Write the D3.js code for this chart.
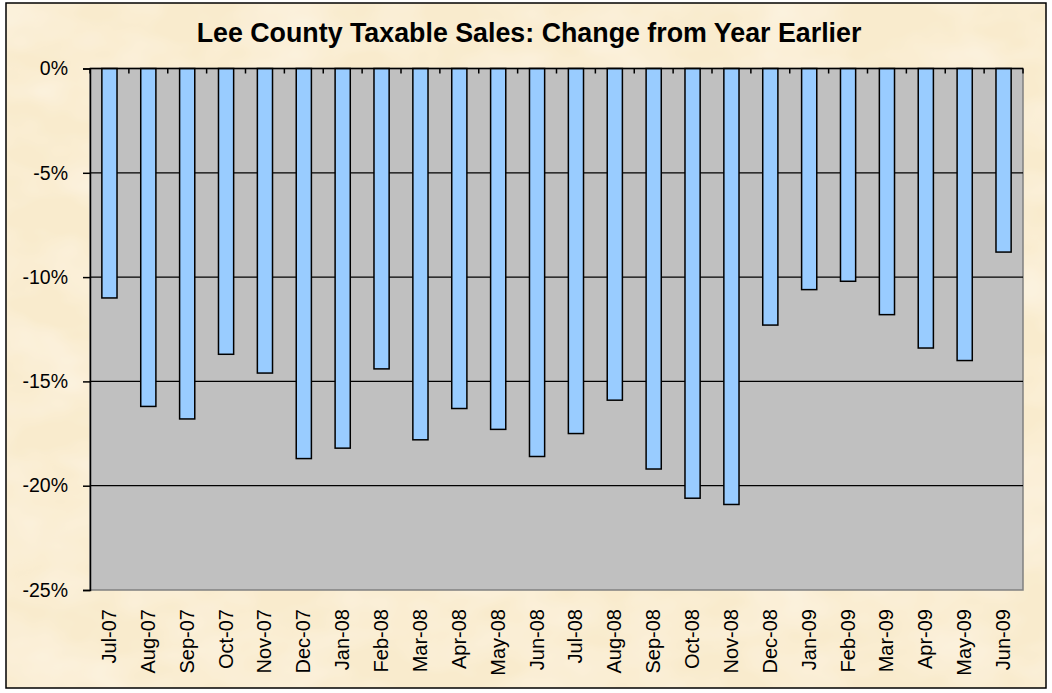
<!DOCTYPE html>
<html><head><meta charset="utf-8">
<script src="https://cdn.jsdelivr.net/npm/d3@7"></script>
<style>html,body{margin:0;padding:0;background:#fff;}svg{display:block;}</style>
</head><body>
<script>
const categories = ["Jul-07","Aug-07","Sep-07","Oct-07","Nov-07","Dec-07","Jan-08","Feb-08","Mar-08","Apr-08","May-08","Jun-08","Jul-08","Aug-08","Sep-08","Oct-08","Nov-08","Dec-08","Jan-09","Feb-09","Mar-09","Apr-09","May-09","Jun-09"];
const values = [-11.0,-16.2,-16.8,-13.7,-14.6,-18.7,-18.2,-14.4,-17.8,-16.3,-17.3,-18.6,-17.5,-15.9,-19.2,-20.6,-20.9,-12.3,-10.6,-10.2,-11.8,-13.4,-14.0,-8.8];
const yTicks = [0,-5,-10,-15,-20,-25];
const title = "Lee County Taxable Sales: Change from Year Earlier";

const W = 1052, H = 693;
const FONT = "Arial, 'Liberation Sans', sans-serif";
const svg = d3.select("body").append("svg").attr("width", W).attr("height", H);
const defs = svg.append("defs");
const f = defs.append("filter").attr("id","parch").attr("x",0).attr("y",0).attr("width","100%").attr("height","100%");
f.append("feTurbulence").attr("type","fractalNoise").attr("baseFrequency","0.012 0.02").attr("numOctaves",3).attr("seed",4).attr("result","n");
f.append("feColorMatrix").attr("in","n").attr("type","matrix")
 .attr("values","0 0 0 0 0.995  0 0 0 0 0.96  0 0 0 0 0.88  0.9 0 0 0 -0.3").attr("result","c");
f.append("feComposite").attr("in","c").attr("in2","SourceGraphic").attr("operator","over");

svg.append("rect").attr("x",0).attr("y",0).attr("width",W).attr("height",H).attr("fill","#ffffff");
svg.append("rect").attr("x",6).attr("y",3).attr("width",1040).attr("height",685).attr("fill","#f9ebcd").attr("filter","url(#parch)");
svg.append("rect").attr("x",6).attr("y",3).attr("width",1040).attr("height",685).attr("fill","none").attr("stroke","#000").attr("stroke-width",1.5);

const m = {left:90, right:1023, top:68.5, bottom:590};
const x = d3.scaleBand().domain(categories).range([m.left, m.right]).paddingInner(0.61).paddingOuter(0.305);
const xb = d3.scaleBand().domain(categories).range([m.left, m.right]);
const y = d3.scaleLinear().domain([-25,0]).range([m.bottom, m.top]);

svg.append("rect").attr("x",m.left).attr("y",m.top).attr("width",m.right-m.left).attr("height",m.bottom-m.top)
  .attr("fill","#c0c0c0").attr("stroke","#808080").attr("stroke-width",1.5);

svg.append("g").selectAll("line").data(yTicks.filter(d=>d<0 && d>-25)).join("line")
  .attr("x1",m.left).attr("x2",m.right).attr("y1",d=>y(d)).attr("y2",d=>y(d))
  .attr("stroke","#000").attr("stroke-width",1.2);

svg.append("g").selectAll("rect").data(values).join("rect")
  .attr("x",(d,i)=>x(categories[i])).attr("width",x.bandwidth())
  .attr("y",y(0)).attr("height",d=>y(d)-y(0))
  .attr("fill","#99ccff").attr("stroke","#000").attr("stroke-width",1.5);

// y axis
const ya = svg.append("g").attr("transform",`translate(${m.left},0)`)
  .call(d3.axisLeft(y).tickValues(yTicks).tickSize(7).tickPadding(15).tickFormat(d=>d+"%"));
ya.select(".domain").attr("stroke","#000").attr("stroke-width",1.5);
ya.selectAll(".tick line").attr("stroke","#000").attr("stroke-width",1.5);
ya.selectAll("text").attr("font-family",FONT).attr("font-size",19.5).attr("fill","#000");

// x axis at y=0 with inward tick marks at band boundaries
const xa = svg.append("g").attr("transform",`translate(0,${y(0)})`);
xa.append("line").attr("x1",m.left).attr("x2",m.right).attr("stroke","#000").attr("stroke-width",1.5);
xa.selectAll("line.t").data(categories.concat(["__end"])).join("line").attr("class","t")
  .attr("x1",(d,i)=> i<categories.length ? xb(d) : m.right).attr("x2",(d,i)=> i<categories.length ? xb(d) : m.right)
  .attr("y1",0).attr("y2",5).attr("stroke","#000").attr("stroke-width",1.5);

// x labels
svg.append("g").selectAll("text").data(categories).join("text")
  .attr("transform",d=>`translate(${xb(d)+xb.bandwidth()/2+6.5},${m.bottom+19}) rotate(-90)`)
  .attr("text-anchor","end")
  .attr("font-family",FONT).attr("font-size",20).attr("fill","#000")
  .text(d=>d);

svg.append("text").attr("x",529).attr("y",42).attr("text-anchor","middle")
  .attr("font-family",FONT).attr("font-weight","bold").attr("font-size",26.8)
  .text(title);
</script>
</body></html>
